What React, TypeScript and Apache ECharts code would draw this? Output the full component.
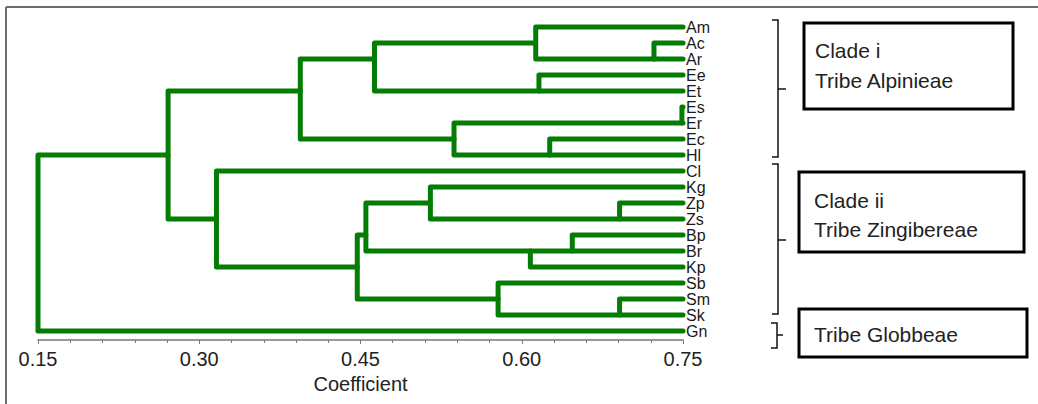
import React, { useEffect, useRef } from "react";
import * as echarts from "echarts";

const leaves = ["Am", "Ac", "Ar", "Ee", "Et", "Es", "Er", "Ec", "Hl", "Cl", "Kg", "Zp", "Zs", "Bp", "Br", "Kp", "Sb", "Sm", "Sk", "Gn"];

// [left child, right child, coefficient at which they join]
const merges: [string, string, number][] = [
  ["Ac", "Ar", 0.723],
  ["Am", "m0", 0.613],
  ["Ee", "Et", 0.616],
  ["m1", "m2", 0.463],
  ["Es", "Er", 0.749],
  ["Ec", "Hl", 0.626],
  ["m4", "m5", 0.537],
  ["m3", "m6", 0.394],
  ["Zp", "Zs", 0.691],
  ["Kg", "m8", 0.515],
  ["Bp", "Br", 0.647],
  ["m10", "Kp", 0.608],
  ["m9", "m11", 0.455],
  ["Sm", "Sk", 0.691],
  ["Sb", "m13", 0.578],
  ["m12", "m14", 0.447],
  ["Cl", "m15", 0.316],
  ["m7", "m16", 0.271],
  ["m17", "Gn", 0.15],
];

const xTicks = [0.15, 0.3, 0.45, 0.6, 0.75];
const leafHeight = 0.75;

const groupBoxes = [
  { lines: ["Clade i", "Tribe Alpinieae"] },
  { lines: ["Clade ii", "Tribe Zingibereae"] },
  { lines: ["Tribe Globbeae"] },
];

function buildSegments() {
  const pos: Record<string, { x: number; y: number }> = {};
  leaves.forEach((l, i) => (pos[l] = { x: leafHeight, y: i }));
  const rows: number[][] = [];
  merges.forEach(([a, b, h], i) => {
    const pa = pos[a];
    const pb = pos[b];
    rows.push([h, pa.y, pb.y, pa.x, pb.x]);
    pos["m" + i] = { x: h, y: (pa.y + pb.y) / 2 };
  });
  return rows;
}

export default function App() {
  const ref = useRef<HTMLDivElement>(null);
  useEffect(() => {
    if (!ref.current) return;
    const chart = echarts.init(ref.current, undefined, { renderer: "svg" });
    const segs = buildSegments();
    const green = "#047d04";
    const font = "'Liberation Sans', Arial, sans-serif";

    const graphics: any[] = [
      { type: "line", shape: { x1: 6, y1: 7, x2: 1038, y2: 7 }, style: { stroke: "#6e6e6e", lineWidth: 2 } },
      { type: "line", shape: { x1: 6, y1: 7, x2: 6, y2: 404 }, style: { stroke: "#6e6e6e", lineWidth: 2 } },
      // brackets
      { type: "polyline", shape: { points: [[772, 20], [778, 20], [778, 157], [772, 157]] }, style: { stroke: "#111", lineWidth: 1.5, fill: null } },
      { type: "line", shape: { x1: 778, y1: 89, x2: 786, y2: 89 }, style: { stroke: "#111", lineWidth: 1.5 } },
      { type: "polyline", shape: { points: [[772, 164], [778, 164], [778, 314], [772, 314]] }, style: { stroke: "#111", lineWidth: 1.5, fill: null } },
      { type: "line", shape: { x1: 778, y1: 240, x2: 786, y2: 240 }, style: { stroke: "#111", lineWidth: 1.5 } },
      { type: "polyline", shape: { points: [[771, 323], [777, 323], [777, 348], [771, 348]] }, style: { stroke: "#111", lineWidth: 1.5, fill: null } },
      { type: "line", shape: { x1: 777, y1: 335, x2: 783, y2: 335 }, style: { stroke: "#111", lineWidth: 1.5 } },
    ];
    const boxGeom = [
      { x: 804, y: 23, w: 209, h: 86, tx: 815, ty: [50, 80] },
      { x: 799, y: 172, w: 225, h: 80, tx: 814, ty: [200, 229] },
      { x: 799, y: 309, w: 228, h: 48, tx: 814, ty: [334] },
    ];
    groupBoxes.forEach((b, i) => {
      const g = boxGeom[i];
      graphics.push({ type: "rect", shape: { x: g.x, y: g.y, width: g.w, height: g.h }, style: { stroke: "#000", lineWidth: 3, fill: "#fff" } });
      b.lines.forEach((t, j) => {
        graphics.push({
          type: "text",
          x: g.tx,
          y: g.ty[j],
          style: { text: t, fill: "#222", font: `21px ${font}`, verticalAlign: "middle", align: "left" },
        });
      });
    });

    chart.setOption({
      animation: false,
      backgroundColor: "#fff",
      grid: { left: 38, right: 355, top: 27, bottom: 73 },
      xAxis: {
        type: "value",
        min: 0.15,
        max: 0.75,
        interval: 0.15,
        offset: 9,
        name: "Coefficient",
        nameLocation: "middle",
        nameGap: 32,
        nameTextStyle: { fontSize: 20, color: "#222", fontFamily: font },
        axisLine: { show: true, lineStyle: { color: "#777", width: 1.5 } },
        axisTick: { show: true, length: 4, lineStyle: { color: "#777", width: 1 } },
        minorTick: { show: true, splitNumber: 5, length: 3, lineStyle: { color: "#777", width: 1 } },
        splitLine: { show: false },
        axisLabel: {
          margin: 9,
          fontSize: 20,
          color: "#222",
          fontFamily: font,
          formatter: (v: number) => (xTicks.some((t) => Math.abs(t - v) < 1e-9) ? v.toFixed(2) : ""),
        },
      },
      yAxis: {
        type: "category",
        data: leaves,
        inverse: true,
        boundaryGap: false,
        position: "right",
        axisLine: { show: false },
        axisTick: { show: false },
        splitLine: { show: false },
        axisLabel: { interval: 0, hideOverlap: false, margin: 3, fontSize: 16, color: "#1a1a1a", fontFamily: font, lineHeight: 14 },
      },
      series: [
        {
          type: "custom",
          data: segs,
          clip: false,
          renderItem: (params: any, api: any) => {
            const h = api.value(0);
            const y1 = api.value(1);
            const y2 = api.value(2);
            const x1 = api.value(3);
            const x2 = api.value(4);
            const p1 = api.coord([x1, y1]);
            const p2 = api.coord([h, y1]);
            const p3 = api.coord([h, y2]);
            const p4 = api.coord([x2, y2]);
            return {
              type: "polyline",
              shape: { points: [p1, p2, p3, p4] },
              style: { stroke: green, lineWidth: 5, fill: null, lineCap: "round", lineJoin: "round" },
            };
          },
        },
      ],
      graphic: graphics,
    });
    return () => chart.dispose();
  }, []);
  return <div ref={ref} style={{ position: "absolute", left: 0, top: 0, width: 1038, height: 404 }} />;
}
